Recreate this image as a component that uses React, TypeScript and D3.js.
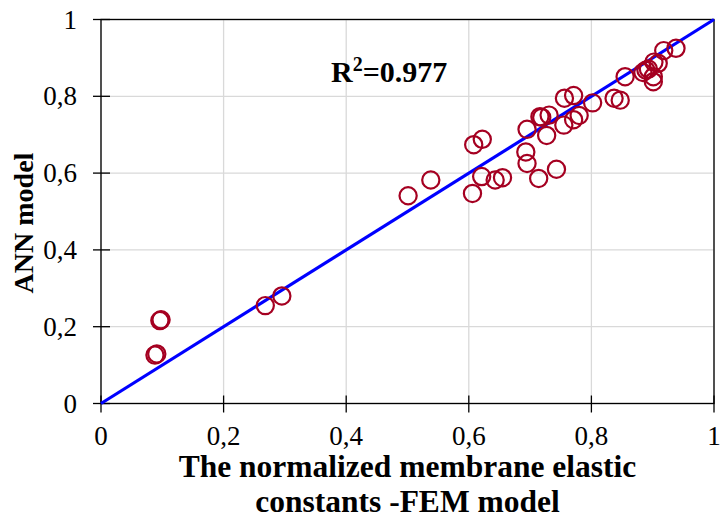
import React from "react";
import * as d3 from "d3";

const femValues: number[] = [
  0.088, 0.091, 0.096, 0.098, 0.268, 0.295, 0.501, 0.538, 0.606, 0.608,
  0.622, 0.621, 0.643, 0.655, 0.693, 0.695, 0.714, 0.743, 0.695, 0.727,
  0.716, 0.719, 0.731, 0.755, 0.771, 0.780, 0.756, 0.771, 0.802, 0.837,
  0.847, 0.855, 0.884, 0.889, 0.893, 0.902, 0.909, 0.901, 0.901, 0.918,
  0.938,
];
const annValues: number[] = [
  0.126, 0.129, 0.216, 0.218, 0.255, 0.280, 0.541, 0.582, 0.547, 0.674,
  0.688, 0.591, 0.582, 0.588, 0.655, 0.625, 0.586, 0.610, 0.714, 0.698,
  0.747, 0.745, 0.751, 0.725, 0.739, 0.750, 0.795, 0.802, 0.783, 0.795,
  0.790, 0.851, 0.862, 0.868, 0.871, 0.889, 0.886, 0.851, 0.838, 0.919,
  0.925,
];
const tickValues: number[] = [0, 0.2, 0.4, 0.6, 0.8, 1];
const tickLabels: string[] = ["0", "0,2", "0,4", "0,6", "0,8", "1"];
const fitLine: [number, number][] = [
  [0, 0],
  [1, 1],
];
const xTitle: string[] = ["The normalized membrane elastic", "constants -FEM model"];
const yTitle = "ANN model";

const W = 722;
const H = 522;
const left = 101;
const right = 714;
const top = 19.5;
const bottom = 403.5;
const font = "'Liberation Serif', 'Times New Roman', serif";

export default function App() {
  const x = d3.scaleLinear().domain([0, 1]).range([left, right]);
  const y = d3.scaleLinear().domain([0, 1]).range([bottom, top]);
  const line = d3
    .line<[number, number]>()
    .x((d) => x(d[0]))
    .y((d) => y(d[1]));

  return (
    <svg
      width={W}
      height={H}
      style={{ position: "absolute", left: 0, top: 0, background: "#fff" }}
    >
      <rect x={0} y={0} width={W} height={H} fill="#fff" />
      {/* grid */}
      {tickValues.map((t, i) => (
        <g key={"g" + i}>
          <line x1={x(t)} x2={x(t)} y1={top} y2={bottom} stroke="#d9d9d9" strokeWidth={1.3} />
          <line x1={left} x2={right} y1={y(t)} y2={y(t)} stroke="#d9d9d9" strokeWidth={1.3} />
        </g>
      ))}
      {/* frame */}
      <rect x={left} y={top} width={right - left} height={bottom - top} fill="none" stroke="#000" strokeWidth={1.3} />
      {/* ticks */}
      {tickValues.map((t, i) => (
        <g key={"t" + i}>
          <line x1={x(t)} x2={x(t)} y1={bottom - 8} y2={bottom + 9} stroke="#000" strokeWidth={1.3} />
          <line x1={left - 8} x2={left + 9} y1={y(t)} y2={y(t)} stroke="#000" strokeWidth={1.3} />
          <text
            x={x(t)}
            y={445}
            textAnchor="middle"
            fontFamily={font}
            fontSize={27}
            fill="#000"
          >
            {tickLabels[i]}
          </text>
          <text
            x={77}
            y={y(t)}
            dy="0.34em"
            textAnchor="end"
            fontFamily={font}
            fontSize={27}
            fill="#000"
          >
            {tickLabels[i]}
          </text>
        </g>
      ))}
      {/* fit line */}
      <path d={line(fitLine) || ""} fill="none" stroke="#0000ff" strokeWidth={3.2} />
      {/* points */}
      {femValues.map((v, i) => (
        <circle
          key={"p" + i}
          cx={x(v)}
          cy={y(annValues[i])}
          r={8.6}
          fill="none"
          stroke="#a50021"
          strokeWidth={2.2}
        />
      ))}
      {/* R2 */}
      <text x={331} y={82} fontFamily={font} fontSize={30} fontWeight="bold" fill="#000">
        R<tspan fontSize={20} dy={-11}>2</tspan>
        <tspan dy={11}>=0.977</tspan>
      </text>
      {/* axis titles */}
      <text
        x={407.5}
        y={477}
        textAnchor="middle"
        fontFamily={font}
        fontSize={31.5}
        fontWeight="bold"
        fill="#000"
      >
        {xTitle[0]}
      </text>
      <text
        x={407.5}
        y={512}
        textAnchor="middle"
        fontFamily={font}
        fontSize={31.5}
        fontWeight="bold"
        fill="#000"
      >
        {xTitle[1]}
      </text>
      <text
        transform={`translate(33, 223) rotate(-90)`}
        textAnchor="middle"
        fontFamily={font}
        fontSize={28}
        fontWeight="bold"
        fill="#000"
      >
        {yTitle}
      </text>
    </svg>
  );
}
